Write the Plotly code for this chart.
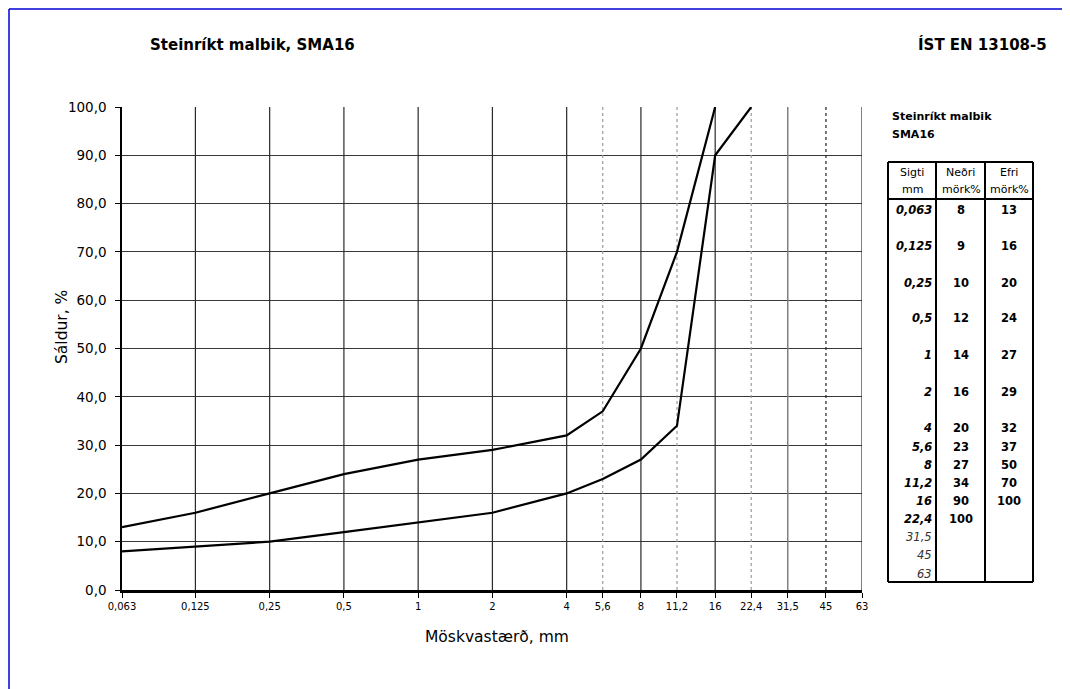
import plotly.graph_objects as go
import math

# ---- data ----
sieves = [0.063, 0.125, 0.25, 0.5, 1, 2, 4, 5.6, 8, 11.2, 16, 22.4, 31.5, 45, 63]
sieve_labels = ["0,063", "0,125", "0,25", "0,5", "1", "2", "4", "5,6", "8", "11,2", "16", "22,4", "31,5", "45", "63"]
lower_x = [0.063, 0.125, 0.25, 0.5, 1, 2, 4, 5.6, 8, 11.2, 16, 22.4]
lower_y = [8, 9, 10, 12, 14, 16, 20, 23, 27, 34, 90, 100]
upper_x = [0.063, 0.125, 0.25, 0.5, 1, 2, 4, 5.6, 8, 11.2, 16]
upper_y = [13, 16, 20, 24, 27, 29, 32, 37, 50, 70, 100]
y_ticks = [0, 10, 20, 30, 40, 50, 60, 70, 80, 90, 100]
y_tick_labels = ["0,0", "10,0", "20,0", "30,0", "40,0", "50,0", "60,0", "70,0", "80,0", "90,0", "100,0"]

title_left = "Steinríkt malbik, SMA16"
title_right = "ÍST EN 13108-5"
table_title = ["Steinríkt malbik", "SMA16"]

# ---- layout geometry (pixels, in window coordinates) ----
OFF = 8  # page body margin
W, H = 1070 - OFF, 689 - OFF
L, R, T, B = 122, 862, 107, 590
FONT = "DejaVu Sans, Verdana, sans-serif"


def px2x(px):
    return (px - L) / (R - L)


def px2y(py):
    return (B - py) / (B - T)


fig = go.Figure()

# vertical gridlines
solid_black = [0.125, 0.25, 0.5, 1, 2, 4, 8, 16, 63]
dotted_gray = [5.6, 11.2, 22.4]
solid_gray = [31.5]
dotted_black = [45]


def vlines(vals, color, width, dash):
    xs, ys = [], []
    for v in vals:
        xs += [v, v, None]
        ys += [0, 100, None]
    fig.add_trace(go.Scatter(x=xs, y=ys, mode="lines", hoverinfo="skip", showlegend=False,
                             line=dict(color=color, width=width, dash=dash)))


vlines(solid_black, "#2a2a2a", 1.2, "solid")
vlines(dotted_gray, "#9a9a9a", 1.2, "dot")
vlines(solid_gray, "#808080", 1.5, "solid")
vlines(dotted_black, "#202020", 1.2, "dot")

# curves
fig.add_trace(go.Scatter(x=upper_x, y=upper_y, mode="lines", showlegend=False, name="Efri mörk",
                         line=dict(color="black", width=2.2)))
fig.add_trace(go.Scatter(x=lower_x, y=lower_y, mode="lines", showlegend=False, name="Neðri mörk",
                         line=dict(color="black", width=2.2)))

shapes = []
annotations = []

# page border (blue)
shapes.append(dict(type="line", xref="paper", yref="paper", x0=px2x(9), x1=px2x(1080), y0=px2y(9), y1=px2y(9),
                   line=dict(color="#0000d0", width=1.5)))
shapes.append(dict(type="line", xref="paper", yref="paper", x0=px2x(9), x1=px2x(9), y0=px2y(9), y1=px2y(700),
                   line=dict(color="#0000d0", width=1.5)))

# titles
annotations.append(dict(text="<b>" + title_left + "</b>", xref="paper", yref="paper", x=px2x(148), y=px2y(45),
                        xanchor="left", yanchor="middle", showarrow=False, font=dict(size=15, color="black", family=FONT)))
annotations.append(dict(text="<b>" + title_right + "</b>", xref="paper", yref="paper", x=px2x(1049), y=px2y(45),
                        xanchor="right", yanchor="middle", showarrow=False, font=dict(size=15, color="black", family=FONT)))

# table
tx0, tc1, tc2, tx1 = 888, 936, 985, 1033
ty0, tyh, ty1 = 162, 199, 582
lw = 2
for (x0, y0, x1, y1) in [(tx0, ty0, tx1, ty0), (tx0, ty1, tx1, ty1), (tx0, ty0, tx0, ty1), (tx1, ty0, tx1, ty1),
                         (tc1, ty0, tc1, ty1), (tc2, ty0, tc2, ty1), (tx0, tyh, tx1, tyh)]:
    shapes.append(dict(type="line", xref="paper", yref="paper", x0=px2x(x0), x1=px2x(x1), y0=px2y(y0), y1=px2y(y1),
                       line=dict(color="black", width=lw)))

annotations.append(dict(text="<b>" + table_title[0] + "</b>", xref="paper", yref="paper", x=px2x(890), y=px2y(117),
                        xanchor="left", yanchor="middle", showarrow=False, font=dict(size=11, color="black", family=FONT)))
annotations.append(dict(text="<b>" + table_title[1] + "</b>", xref="paper", yref="paper", x=px2x(890), y=px2y(134),
                        xanchor="left", yanchor="middle", showarrow=False, font=dict(size=11, color="black", family=FONT)))

headers = [("Sigti", "mm", (tx0 + tc1) / 2), ("Neðri", "mörk%", (tc1 + tc2) / 2), ("Efri", "mörk%", (tc2 + tx1) / 2)]
for a, b, cx in headers:
    annotations.append(dict(text=a, xref="paper", yref="paper", x=px2x(cx), y=px2y(172), xanchor="center",
                            yanchor="middle", showarrow=False, font=dict(size=11, color="black", family=FONT)))
    annotations.append(dict(text=b, xref="paper", yref="paper", x=px2x(cx + 0.5), y=px2y(190), xanchor="center",
                            yanchor="middle", showarrow=False, font=dict(size=11, color="black", family=FONT)))

row_y = [210, 246, 283, 318, 355, 392, 428, 447, 465, 483, 501, 519, 537, 555, 574]
for i, lab in enumerate(sieve_labels):
    yy = px2y(row_y[i])
    if i < len(lower_y):
        txt = "<b><i>" + lab + "</i></b>"
        col = "black"
    else:
        txt = "<i>" + lab + "</i>"
        col = "#333333"
    annotations.append(dict(text=txt, xref="paper", yref="paper", x=px2x(934), y=yy, xanchor="right",
                            yanchor="middle", showarrow=False, font=dict(size=11.5, color=col, family=FONT)))
    if i < len(lower_y):
        annotations.append(dict(text="<b>%d</b>" % lower_y[i], xref="paper", yref="paper", x=px2x(961), y=yy,
                                xanchor="center", yanchor="middle", showarrow=False,
                                font=dict(size=11.5, color="black", family=FONT)))
    if i < len(upper_y):
        annotations.append(dict(text="<b>%d</b>" % upper_y[i], xref="paper", yref="paper", x=px2x(1009), y=yy,
                                xanchor="center", yanchor="middle", showarrow=False,
                                font=dict(size=11.5, color="black", family=FONT)))

# axis titles
annotations.append(dict(text="Sáldur, %", xref="paper", yref="paper", x=px2x(62), y=px2y(327), textangle=-90,
                        xanchor="center", yanchor="middle", showarrow=False, font=dict(size=15.5, color="black", family=FONT)))
annotations.append(dict(text="Möskvastærð, mm", xref="paper", yref="paper", x=px2x(497), y=px2y(637),
                        xanchor="center", yanchor="middle", showarrow=False, font=dict(size=15.5, color="black", family=FONT)))

fig.update_layout(
    width=W, height=H,
    margin=dict(l=L - OFF, r=W - (R - OFF), t=T - OFF, b=H - (B - OFF)),
    paper_bgcolor="white", plot_bgcolor="white",
    font=dict(family=FONT, color="black"),
    shapes=shapes, annotations=annotations,
    xaxis=dict(type="log", range=[math.log10(sieves[0]), math.log10(sieves[-1])],
               tickvals=sieves, ticktext=sieve_labels, tickfont=dict(size=10, color="black"),
               showgrid=False, zeroline=False, showline=True, linecolor="black", linewidth=2.5,
               ticks="outside", ticklen=5, tickcolor="black", mirror=False, fixedrange=True,
               ticklabelstandoff=0),
    yaxis=dict(range=[0, 100], tickvals=y_ticks, ticktext=y_tick_labels, tickfont=dict(size=13.5, color="black"),
               showgrid=True, gridcolor="#383838", gridwidth=1.2, zeroline=False,
               showline=True, linecolor="black", linewidth=1.5, ticks="outside", ticklen=5, tickcolor="black",
               fixedrange=True, ticklabelstandoff=6),
)

fig.write_html("out.html")
